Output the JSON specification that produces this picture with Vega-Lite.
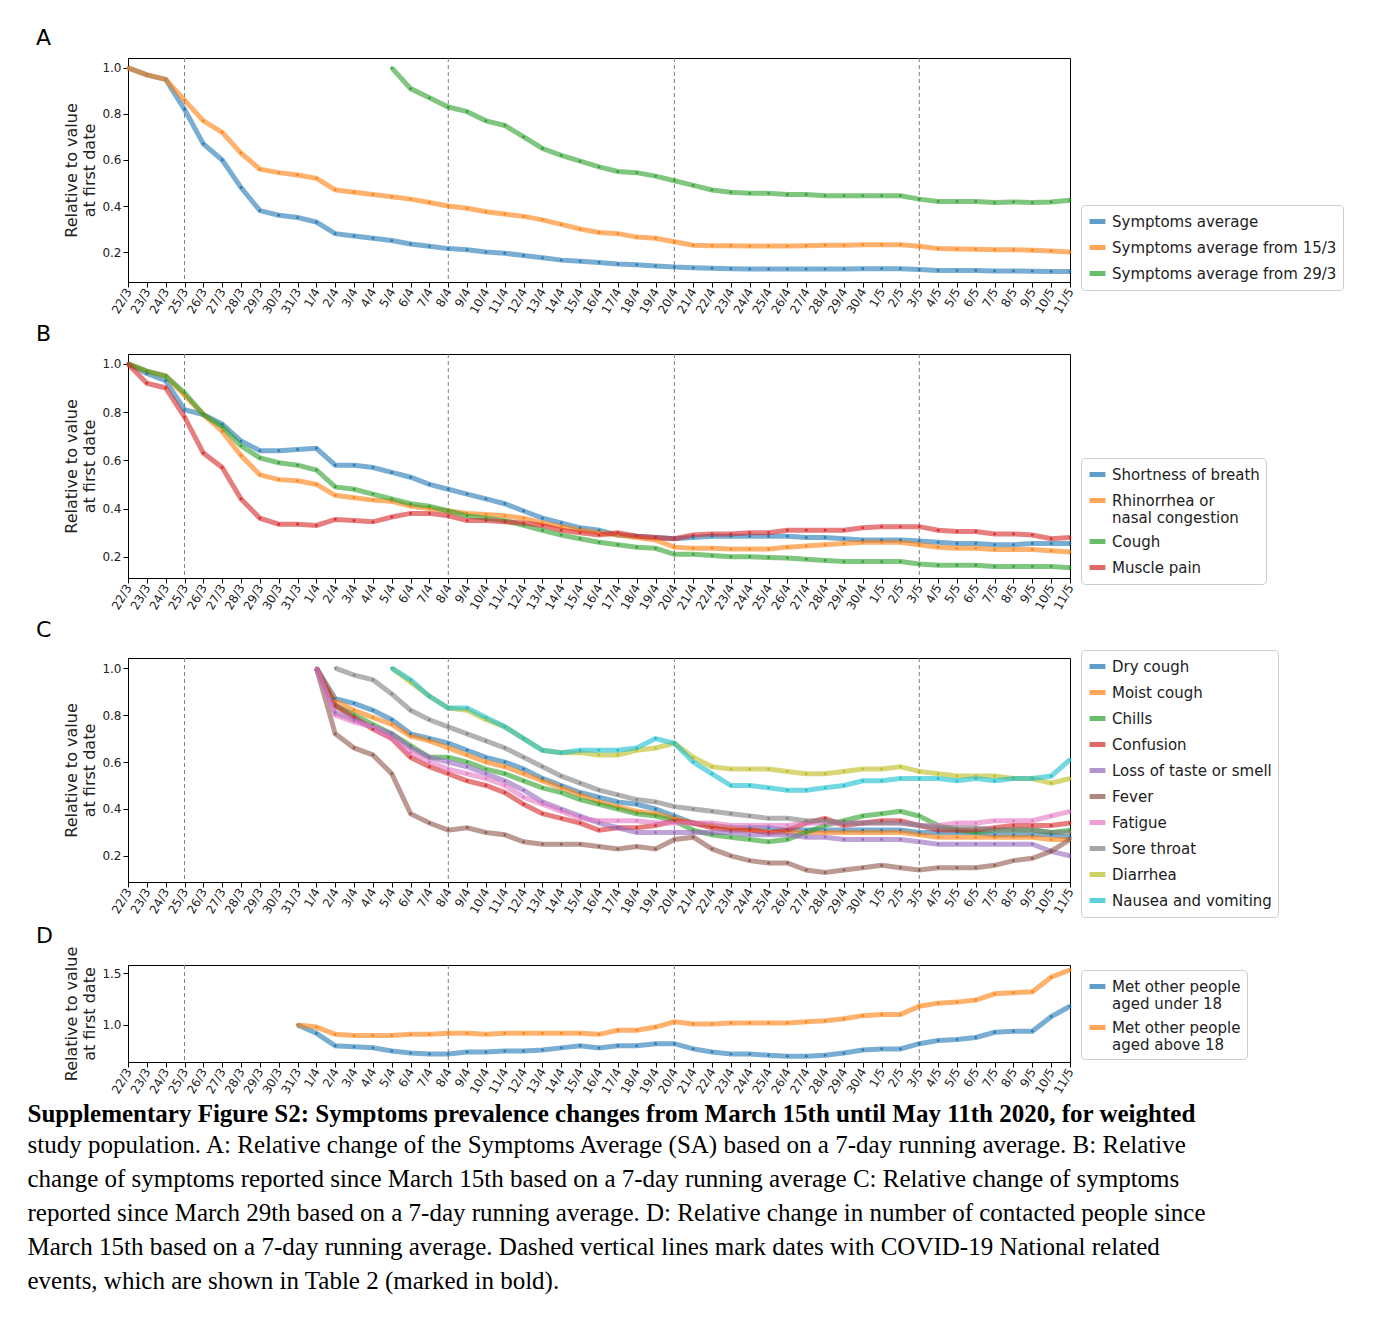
{
"$schema":"https://vega.github.io/schema/vega-lite/v6.json",
"padding":{"left":27,"top":26,"right":0,"bottom":2},
"spacing":6,
"data":{"values":[
{"d":"22/3","a1":1.0,"a2":1.0,"b1":1.0,"b2":1.0,"b3":1.0,"b4":1.0},
{"d":"23/3","a1":0.97,"a2":0.97,"b1":0.96,"b2":0.97,"b3":0.97,"b4":0.92},
{"d":"24/3","a1":0.95,"a2":0.95,"b1":0.93,"b2":0.95,"b3":0.95,"b4":0.90},
{"d":"25/3","a1":0.82,"a2":0.86,"b1":0.81,"b2":0.87,"b3":0.88,"b4":0.78},
{"d":"26/3","a1":0.67,"a2":0.77,"b1":0.79,"b2":0.79,"b3":0.79,"b4":0.63},
{"d":"27/3","a1":0.60,"a2":0.72,"b1":0.75,"b2":0.72,"b3":0.74,"b4":0.57},
{"d":"28/3","a1":0.48,"a2":0.63,"b1":0.68,"b2":0.62,"b3":0.66,"b4":0.44},
{"d":"29/3","a1":0.38,"a2":0.56,"b1":0.64,"b2":0.54,"b3":0.61,"b4":0.36},
{"d":"30/3","a1":0.36,"a2":0.545,"b1":0.64,"b2":0.52,"b3":0.59,"b4":0.335},
{"d":"31/3","a1":0.35,"a2":0.535,"b1":0.645,"b2":0.515,"b3":0.58,"b4":0.335,"e1":1.0,"e2":1.0},
{"d":"1/4","a1":0.33,"a2":0.52,"b1":0.65,"b2":0.50,"b3":0.56,"b4":0.33,"c1":1,"c2":1,"c3":1,"c4":1,"c5":1,"c6":1,"c7":1,"e1":0.92,"e2":0.98},
{"d":"2/4","a1":0.28,"a2":0.47,"b1":0.58,"b2":0.455,"b3":0.49,"b4":0.355,"c1":0.87,"c2":0.86,"c3":0.84,"c4":0.84,"c5":0.81,"c6":0.72,"c7":0.80,"c8":1.0,"e1":0.80,"e2":0.91},
{"d":"3/4","a1":0.27,"a2":0.46,"b1":0.58,"b2":0.445,"b3":0.48,"b4":0.35,"c1":0.85,"c2":0.82,"c3":0.80,"c4":0.79,"c5":0.78,"c6":0.66,"c7":0.77,"c8":0.97,"e1":0.79,"e2":0.90},
{"d":"4/4","a1":0.26,"a2":0.45,"b1":0.57,"b2":0.435,"b3":0.46,"b4":0.345,"c1":0.82,"c2":0.79,"c3":0.76,"c4":0.74,"c5":0.75,"c6":0.63,"c7":0.75,"c8":0.95,"e1":0.78,"e2":0.90},
{"d":"5/4","a1":0.25,"a2":0.44,"a3":1.0,"b1":0.55,"b2":0.43,"b3":0.44,"b4":0.365,"c1":0.78,"c2":0.76,"c3":0.72,"c4":0.70,"c5":0.72,"c6":0.55,"c7":0.70,"c8":0.89,"c9":1.0,"c10":1.0,"e1":0.75,"e2":0.90},
{"d":"6/4","a1":0.235,"a2":0.43,"a3":0.91,"b1":0.53,"b2":0.41,"b3":0.42,"b4":0.38,"c1":0.72,"c2":0.71,"c3":0.67,"c4":0.62,"c5":0.66,"c6":0.38,"c7":0.64,"c8":0.82,"c9":0.94,"c10":0.95,"e1":0.73,"e2":0.91},
{"d":"7/4","a1":0.225,"a2":0.415,"a3":0.87,"b1":0.50,"b2":0.40,"b3":0.41,"b4":0.38,"c1":0.70,"c2":0.69,"c3":0.62,"c4":0.58,"c5":0.62,"c6":0.34,"c7":0.60,"c8":0.78,"c9":0.88,"c10":0.88,"e1":0.72,"e2":0.91},
{"d":"8/4","a1":0.215,"a2":0.40,"a3":0.83,"b1":0.48,"b2":0.39,"b3":0.39,"b4":0.37,"c1":0.68,"c2":0.66,"c3":0.62,"c4":0.55,"c5":0.60,"c6":0.31,"c7":0.57,"c8":0.75,"c9":0.83,"c10":0.83,"e1":0.72,"e2":0.92},
{"d":"9/4","a1":0.21,"a2":0.39,"a3":0.81,"b1":0.46,"b2":0.38,"b3":0.37,"b4":0.35,"c1":0.65,"c2":0.63,"c3":0.60,"c4":0.52,"c5":0.58,"c6":0.32,"c7":0.55,"c8":0.72,"c9":0.82,"c10":0.83,"e1":0.74,"e2":0.92},
{"d":"10/4","a1":0.20,"a2":0.375,"a3":0.77,"b1":0.44,"b2":0.375,"b3":0.36,"b4":0.35,"c1":0.62,"c2":0.60,"c3":0.57,"c4":0.50,"c5":0.55,"c6":0.30,"c7":0.53,"c8":0.69,"c9":0.78,"c10":0.79,"e1":0.74,"e2":0.91},
{"d":"11/4","a1":0.195,"a2":0.365,"a3":0.75,"b1":0.42,"b2":0.37,"b3":0.35,"b4":0.345,"c1":0.60,"c2":0.58,"c3":0.55,"c4":0.47,"c5":0.52,"c6":0.29,"c7":0.50,"c8":0.66,"c9":0.75,"c10":0.75,"e1":0.75,"e2":0.92},
{"d":"12/4","a1":0.185,"a2":0.355,"a3":0.70,"b1":0.39,"b2":0.36,"b3":0.33,"b4":0.34,"c1":0.57,"c2":0.55,"c3":0.52,"c4":0.42,"c5":0.48,"c6":0.26,"c7":0.45,"c8":0.62,"c9":0.70,"c10":0.70,"e1":0.75,"e2":0.92},
{"d":"13/4","a1":0.175,"a2":0.34,"a3":0.65,"b1":0.36,"b2":0.34,"b3":0.31,"b4":0.33,"c1":0.53,"c2":0.52,"c3":0.49,"c4":0.38,"c5":0.43,"c6":0.25,"c7":0.42,"c8":0.58,"c9":0.65,"c10":0.65,"e1":0.76,"e2":0.92},
{"d":"14/4","a1":0.165,"a2":0.32,"a3":0.62,"b1":0.34,"b2":0.325,"b3":0.29,"b4":0.31,"c1":0.50,"c2":0.49,"c3":0.47,"c4":0.36,"c5":0.40,"c6":0.25,"c7":0.39,"c8":0.54,"c9":0.64,"c10":0.64,"e1":0.78,"e2":0.92},
{"d":"15/4","a1":0.16,"a2":0.30,"a3":0.595,"b1":0.32,"b2":0.31,"b3":0.275,"b4":0.30,"c1":0.47,"c2":0.46,"c3":0.44,"c4":0.34,"c5":0.37,"c6":0.25,"c7":0.36,"c8":0.51,"c9":0.64,"c10":0.65,"e1":0.80,"e2":0.92},
{"d":"16/4","a1":0.155,"a2":0.285,"a3":0.57,"b1":0.31,"b2":0.30,"b3":0.26,"b4":0.29,"c1":0.45,"c2":0.43,"c3":0.42,"c4":0.31,"c5":0.34,"c6":0.24,"c7":0.35,"c8":0.48,"c9":0.63,"c10":0.65,"e1":0.78,"e2":0.91},
{"d":"17/4","a1":0.148,"a2":0.28,"a3":0.55,"b1":0.29,"b2":0.29,"b3":0.25,"b4":0.30,"c1":0.43,"c2":0.41,"c3":0.40,"c4":0.32,"c5":0.32,"c6":0.23,"c7":0.35,"c8":0.46,"c9":0.63,"c10":0.65,"e1":0.80,"e2":0.95},
{"d":"18/4","a1":0.145,"a2":0.265,"a3":0.545,"b1":0.285,"b2":0.28,"b3":0.24,"b4":0.285,"c1":0.42,"c2":0.39,"c3":0.38,"c4":0.32,"c5":0.30,"c6":0.24,"c7":0.35,"c8":0.44,"c9":0.65,"c10":0.66,"e1":0.80,"e2":0.95},
{"d":"19/4","a1":0.14,"a2":0.26,"a3":0.53,"b1":0.28,"b2":0.27,"b3":0.235,"b4":0.28,"c1":0.40,"c2":0.38,"c3":0.37,"c4":0.33,"c5":0.30,"c6":0.23,"c7":0.34,"c8":0.43,"c9":0.66,"c10":0.70,"e1":0.82,"e2":0.98},
{"d":"20/4","a1":0.135,"a2":0.245,"a3":0.51,"b1":0.275,"b2":0.24,"b3":0.21,"b4":0.275,"c1":0.37,"c2":0.36,"c3":0.35,"c4":0.35,"c5":0.30,"c6":0.27,"c7":0.34,"c8":0.41,"c9":0.68,"c10":0.68,"e1":0.82,"e2":1.03},
{"d":"21/4","a1":0.132,"a2":0.23,"a3":0.49,"b1":0.28,"b2":0.235,"b3":0.21,"b4":0.29,"c1":0.34,"c2":0.34,"c3":0.31,"c4":0.34,"c5":0.30,"c6":0.28,"c7":0.34,"c8":0.40,"c9":0.62,"c10":0.60,"e1":0.77,"e2":1.01},
{"d":"22/4","a1":0.13,"a2":0.228,"a3":0.47,"b1":0.285,"b2":0.235,"b3":0.205,"b4":0.295,"c1":0.33,"c2":0.33,"c3":0.29,"c4":0.32,"c5":0.30,"c6":0.23,"c7":0.34,"c8":0.39,"c9":0.58,"c10":0.55,"e1":0.74,"e2":1.01},
{"d":"23/4","a1":0.128,"a2":0.228,"a3":0.46,"b1":0.285,"b2":0.232,"b3":0.20,"b4":0.295,"c1":0.32,"c2":0.32,"c3":0.28,"c4":0.31,"c5":0.30,"c6":0.20,"c7":0.33,"c8":0.38,"c9":0.57,"c10":0.50,"e1":0.72,"e2":1.02},
{"d":"24/4","a1":0.127,"a2":0.226,"a3":0.455,"b1":0.285,"b2":0.232,"b3":0.20,"b4":0.30,"c1":0.32,"c2":0.31,"c3":0.27,"c4":0.31,"c5":0.29,"c6":0.18,"c7":0.33,"c8":0.37,"c9":0.57,"c10":0.50,"e1":0.72,"e2":1.02},
{"d":"25/4","a1":0.126,"a2":0.226,"a3":0.455,"b1":0.285,"b2":0.232,"b3":0.197,"b4":0.30,"c1":0.32,"c2":0.30,"c3":0.26,"c4":0.30,"c5":0.29,"c6":0.17,"c7":0.33,"c8":0.36,"c9":0.57,"c10":0.49,"e1":0.71,"e2":1.02},
{"d":"26/4","a1":0.126,"a2":0.226,"a3":0.45,"b1":0.285,"b2":0.24,"b3":0.195,"b4":0.31,"c1":0.31,"c2":0.30,"c3":0.27,"c4":0.31,"c5":0.29,"c6":0.17,"c7":0.33,"c8":0.36,"c9":0.56,"c10":0.48,"e1":0.70,"e2":1.02},
{"d":"27/4","a1":0.126,"a2":0.228,"a3":0.45,"b1":0.28,"b2":0.245,"b3":0.19,"b4":0.31,"c1":0.31,"c2":0.30,"c3":0.30,"c4":0.34,"c5":0.28,"c6":0.14,"c7":0.34,"c8":0.35,"c9":0.55,"c10":0.48,"e1":0.70,"e2":1.03},
{"d":"28/4","a1":0.126,"a2":0.23,"a3":0.445,"b1":0.28,"b2":0.25,"b3":0.185,"b4":0.31,"c1":0.31,"c2":0.30,"c3":0.33,"c4":0.36,"c5":0.28,"c6":0.13,"c7":0.34,"c8":0.35,"c9":0.55,"c10":0.49,"e1":0.71,"e2":1.04},
{"d":"29/4","a1":0.127,"a2":0.23,"a3":0.445,"b1":0.275,"b2":0.255,"b3":0.18,"b4":0.31,"c1":0.31,"c2":0.30,"c3":0.35,"c4":0.33,"c5":0.27,"c6":0.14,"c7":0.34,"c8":0.34,"c9":0.56,"c10":0.50,"e1":0.73,"e2":1.06},
{"d":"30/4","a1":0.128,"a2":0.232,"a3":0.445,"b1":0.27,"b2":0.26,"b3":0.18,"b4":0.32,"c1":0.31,"c2":0.30,"c3":0.37,"c4":0.34,"c5":0.27,"c6":0.15,"c7":0.34,"c8":0.34,"c9":0.57,"c10":0.52,"e1":0.76,"e2":1.09},
{"d":"1/5","a1":0.128,"a2":0.232,"a3":0.445,"b1":0.27,"b2":0.26,"b3":0.18,"b4":0.325,"c1":0.31,"c2":0.30,"c3":0.38,"c4":0.35,"c5":0.27,"c6":0.16,"c7":0.34,"c8":0.34,"c9":0.57,"c10":0.52,"e1":0.77,"e2":1.10},
{"d":"2/5","a1":0.128,"a2":0.232,"a3":0.445,"b1":0.27,"b2":0.26,"b3":0.18,"b4":0.325,"c1":0.31,"c2":0.30,"c3":0.39,"c4":0.35,"c5":0.27,"c6":0.15,"c7":0.34,"c8":0.34,"c9":0.58,"c10":0.53,"e1":0.77,"e2":1.10},
{"d":"3/5","a1":0.124,"a2":0.225,"a3":0.43,"b1":0.265,"b2":0.25,"b3":0.17,"b4":0.325,"c1":0.30,"c2":0.29,"c3":0.37,"c4":0.33,"c5":0.26,"c6":0.14,"c7":0.33,"c8":0.33,"c9":0.56,"c10":0.53,"e1":0.82,"e2":1.18},
{"d":"4/5","a1":0.12,"a2":0.215,"a3":0.42,"b1":0.26,"b2":0.24,"b3":0.165,"b4":0.31,"c1":0.30,"c2":0.28,"c3":0.33,"c4":0.31,"c5":0.25,"c6":0.15,"c7":0.33,"c8":0.32,"c9":0.55,"c10":0.53,"e1":0.85,"e2":1.21},
{"d":"5/5","a1":0.12,"a2":0.213,"a3":0.42,"b1":0.255,"b2":0.235,"b3":0.165,"b4":0.305,"c1":0.30,"c2":0.28,"c3":0.31,"c4":0.31,"c5":0.25,"c6":0.15,"c7":0.34,"c8":0.32,"c9":0.54,"c10":0.52,"e1":0.86,"e2":1.22},
{"d":"6/5","a1":0.12,"a2":0.212,"a3":0.42,"b1":0.255,"b2":0.235,"b3":0.165,"b4":0.305,"c1":0.30,"c2":0.28,"c3":0.30,"c4":0.31,"c5":0.25,"c6":0.15,"c7":0.34,"c8":0.32,"c9":0.54,"c10":0.53,"e1":0.88,"e2":1.24},
{"d":"7/5","a1":0.118,"a2":0.21,"a3":0.415,"b1":0.25,"b2":0.23,"b3":0.16,"b4":0.295,"c1":0.29,"c2":0.28,"c3":0.31,"c4":0.32,"c5":0.25,"c6":0.16,"c7":0.35,"c8":0.31,"c9":0.54,"c10":0.52,"e1":0.93,"e2":1.30},
{"d":"8/5","a1":0.118,"a2":0.21,"a3":0.418,"b1":0.25,"b2":0.23,"b3":0.16,"b4":0.295,"c1":0.29,"c2":0.28,"c3":0.31,"c4":0.33,"c5":0.25,"c6":0.18,"c7":0.35,"c8":0.31,"c9":0.53,"c10":0.53,"e1":0.94,"e2":1.31},
{"d":"9/5","a1":0.117,"a2":0.208,"a3":0.415,"b1":0.255,"b2":0.23,"b3":0.16,"b4":0.29,"c1":0.29,"c2":0.28,"c3":0.31,"c4":0.33,"c5":0.25,"c6":0.19,"c7":0.35,"c8":0.31,"c9":0.53,"c10":0.53,"e1":0.94,"e2":1.32},
{"d":"10/5","a1":0.116,"a2":0.205,"a3":0.418,"b1":0.255,"b2":0.225,"b3":0.16,"b4":0.275,"c1":0.29,"c2":0.27,"c3":0.30,"c4":0.33,"c5":0.22,"c6":0.22,"c7":0.37,"c8":0.30,"c9":0.51,"c10":0.54,"e1":1.08,"e2":1.46},
{"d":"11/5","a1":0.116,"a2":0.20,"a3":0.425,"b1":0.255,"b2":0.22,"b3":0.155,"b4":0.28,"c1":0.28,"c2":0.27,"c3":0.31,"c4":0.34,"c5":0.20,"c6":0.27,"c7":0.39,"c8":0.30,"c9":0.53,"c10":0.61,"e1":1.18,"e2":1.53}
]},
"title":{
"text":"Supplementary Figure S2: Symptoms prevalence changes from March 15th until May 11th 2020, for weighted",
"subtitle":["study population. A: Relative change of the Symptoms Average (SA) based on a 7-day running average. B: Relative","change of symptoms reported since March 15th based on a 7-day running average C: Relative change of symptoms","reported since March 29th based on a 7-day running average. D: Relative change in number of contacted people since","March 15th based on a 7-day running average. Dashed vertical lines mark dates with COVID-19 National related","events, which are shown in Table 2 (marked in bold)."],
"orient":"bottom","anchor":"start","font":"Liberation Serif","fontSize":25,"fontWeight":"bold","color":"black",
"subtitleFont":"Liberation Serif","subtitleFontSize":25,"subtitleColor":"black","subtitleLineHeight":34,"subtitlePadding":6,"offset":6,"dx":-8
},
"vconcat":[
{
"width":942,"height":224,
"title":{"text":"A","anchor":"start","frame":"group","dx":-92,"offset":8,"fontSize":22,"fontWeight":"normal"},
"layer":[
{"data":{"values":[{"d":"25/3"},{"d":"8/4"},{"d":"20/4"},{"d":"3/5"}]},"mark":{"type":"rule","color":"gray","strokeDash":[4,3],"strokeWidth":1},
"encoding":{"x":{"field":"d","type":"ordinal","scale":{"domain":["22/3","23/3","24/3","25/3","26/3","27/3","28/3","29/3","30/3","31/3","1/4","2/4","3/4","4/4","5/4","6/4","7/4","8/4","9/4","10/4","11/4","12/4","13/4","14/4","15/4","16/4","17/4","18/4","19/4","20/4","21/4","22/4","23/4","24/4","25/4","26/4","27/4","28/4","29/4","30/4","1/5","2/5","3/5","4/5","5/5","6/5","7/5","8/5","9/5","10/5","11/5"],"type":"point","padding":0}}}},
{"transform":[{"fold":["a1","a2","a3"],"as":["s","v"]},{"filter":"isValid(datum.v)"}],
"encoding":{
"x":{"field":"d","type":"ordinal","title":null,"axis":{"labelAngle":-60}},
"y":{"field":"v","type":"quantitative","title":["Relative to value","at first date"],"scale":{"domain":[0.07,1.043],"nice":false,"zero":false},"axis":{"values":[0.2,0.4,0.6,0.8,1.0],"format":".1f"}},
"color":{"field":"s","type":"nominal","scale":{"domain":["a1","a2","a3"],"range":["#1f77b4","#ff7f0e","#2ca02c"]},
"legend":{"title":null,"orient":"none","legendX":953,"legendY":147,"labelExpr":"{'a1':'Symptoms average','a2':'Symptoms average from 15/3','a3':'Symptoms average from 29/3'}[datum.label]"}}},
"layer":[{"mark":{"type":"line","strokeWidth":5,"opacity":0.6}},{"mark":{"type":"point","filled":true,"size":8,"opacity":0.9}}]}
]},
{
"width":942,"height":224,
"title":{"text":"B","anchor":"start","frame":"group","dx":-92,"offset":8,"fontSize":22,"fontWeight":"normal"},
"layer":[
{"data":{"values":[{"d":"25/3"},{"d":"8/4"},{"d":"20/4"},{"d":"3/5"}]},"mark":{"type":"rule","color":"gray","strokeDash":[4,3],"strokeWidth":1},
"encoding":{"x":{"field":"d","type":"ordinal","scale":{"domain":["22/3","23/3","24/3","25/3","26/3","27/3","28/3","29/3","30/3","31/3","1/4","2/4","3/4","4/4","5/4","6/4","7/4","8/4","9/4","10/4","11/4","12/4","13/4","14/4","15/4","16/4","17/4","18/4","19/4","20/4","21/4","22/4","23/4","24/4","25/4","26/4","27/4","28/4","29/4","30/4","1/5","2/5","3/5","4/5","5/5","6/5","7/5","8/5","9/5","10/5","11/5"],"type":"point","padding":0}}}},
{"transform":[{"fold":["b1","b2","b3","b4"],"as":["s","v"]},{"filter":"isValid(datum.v)"}],
"encoding":{
"x":{"field":"d","type":"ordinal","title":null,"axis":{"labelAngle":-60}},
"y":{"field":"v","type":"quantitative","title":["Relative to value","at first date"],"scale":{"domain":[0.112,1.041],"nice":false,"zero":false},"axis":{"values":[0.2,0.4,0.6,0.8,1.0],"format":".1f"}},
"color":{"field":"s","type":"nominal","scale":{"domain":["b1","b2","b3","b4"],"range":["#1f77b4","#ff7f0e","#2ca02c","#d62728"]},
"legend":{"title":null,"orient":"none","legendX":953,"legendY":104,"labelExpr":"{'b1':'Shortness of breath','b2':['Rhinorrhea or',' nasal congestion'],'b3':'Cough','b4':'Muscle pain'}[datum.label]"}}},
"layer":[{"mark":{"type":"line","strokeWidth":5,"opacity":0.6}},{"mark":{"type":"point","filled":true,"size":8,"opacity":0.9}}]}
]},
{
"width":942,"height":224,
"title":{"text":"C","anchor":"start","frame":"group","dx":-92,"offset":8,"fontSize":22,"fontWeight":"normal"},
"layer":[
{"data":{"values":[{"d":"25/3"},{"d":"8/4"},{"d":"20/4"},{"d":"3/5"}]},"mark":{"type":"rule","color":"gray","strokeDash":[4,3],"strokeWidth":1},
"encoding":{"x":{"field":"d","type":"ordinal","scale":{"domain":["22/3","23/3","24/3","25/3","26/3","27/3","28/3","29/3","30/3","31/3","1/4","2/4","3/4","4/4","5/4","6/4","7/4","8/4","9/4","10/4","11/4","12/4","13/4","14/4","15/4","16/4","17/4","18/4","19/4","20/4","21/4","22/4","23/4","24/4","25/4","26/4","27/4","28/4","29/4","30/4","1/5","2/5","3/5","4/5","5/5","6/5","7/5","8/5","9/5","10/5","11/5"],"type":"point","padding":0}}}},
{"transform":[{"fold":["c1","c2","c3","c4","c5","c6","c7","c8","c9","c10"],"as":["s","v"]},{"filter":"isValid(datum.v)"}],
"encoding":{
"x":{"field":"d","type":"ordinal","title":null,"axis":{"labelAngle":-60}},
"y":{"field":"v","type":"quantitative","title":["Relative to value","at first date"],"scale":{"domain":[0.089,1.043],"nice":false,"zero":false},"axis":{"values":[0.2,0.4,0.6,0.8,1.0],"format":".1f"}},
"color":{"field":"s","type":"nominal","scale":{"domain":["c1","c2","c3","c4","c5","c6","c7","c8","c9","c10"],"range":["#1f77b4","#ff7f0e","#2ca02c","#d62728","#9467bd","#8c564b","#e377c2","#7f7f7f","#bcbd22","#17becf"]},
"legend":{"title":null,"orient":"none","legendX":953,"legendY":-8,"labelExpr":"{'c1':'Dry cough','c2':'Moist cough','c3':'Chills','c4':'Confusion','c5':'Loss of taste or smell','c6':'Fever','c7':'Fatigue','c8':'Sore throat','c9':'Diarrhea','c10':'Nausea and vomiting'}[datum.label]"}}},
"layer":[{"mark":{"type":"line","strokeWidth":5,"opacity":0.6}},{"mark":{"type":"point","filled":true,"size":8,"opacity":0.9}}]}
]},
{
"width":942,"height":97,
"title":{"text":"D","anchor":"start","frame":"group","dx":-92,"offset":-2,"fontSize":22,"fontWeight":"normal"},
"layer":[
{"data":{"values":[{"d":"25/3"},{"d":"8/4"},{"d":"20/4"},{"d":"3/5"}]},"mark":{"type":"rule","color":"gray","strokeDash":[4,3],"strokeWidth":1},
"encoding":{"x":{"field":"d","type":"ordinal","scale":{"domain":["22/3","23/3","24/3","25/3","26/3","27/3","28/3","29/3","30/3","31/3","1/4","2/4","3/4","4/4","5/4","6/4","7/4","8/4","9/4","10/4","11/4","12/4","13/4","14/4","15/4","16/4","17/4","18/4","19/4","20/4","21/4","22/4","23/4","24/4","25/4","26/4","27/4","28/4","29/4","30/4","1/5","2/5","3/5","4/5","5/5","6/5","7/5","8/5","9/5","10/5","11/5"],"type":"point","padding":0}}}},
{"transform":[{"fold":["e1","e2"],"as":["s","v"]},{"filter":"isValid(datum.v)"}],
"encoding":{
"x":{"field":"d","type":"ordinal","title":null,"axis":{"labelAngle":-60}},
"y":{"field":"v","type":"quantitative","title":["Relative to value","at first date"],"scale":{"domain":[0.644,1.577],"nice":false,"zero":false},"axis":{"values":[1.0,1.5],"format":".1f"}},
"color":{"field":"s","type":"nominal","scale":{"domain":["e1","e2"],"range":["#1f77b4","#ff7f0e"]},
"legend":{"title":null,"orient":"none","legendX":953,"legendY":5,"labelExpr":"{'e1':['Met other people',' aged under 18'],'e2':['Met other people',' aged above 18']}[datum.label]"}}},
"layer":[{"mark":{"type":"line","strokeWidth":5,"opacity":0.6}},{"mark":{"type":"point","filled":true,"size":8,"opacity":0.9}}]}
]}
],
"resolve":{"scale":{"color":"independent"}},
"config":{
"font":"DejaVu Sans",
"view":{"stroke":"black"},
"axis":{"grid":false,"domainColor":"black","tickColor":"black","labelColor":"#222","labelFontSize":12,"titleFontSize":16,"titleFontWeight":"normal","titleColor":"#222","labelFont":"DejaVu Sans","titleFont":"DejaVu Sans","titlePadding":4},
"legend":{"strokeColor":"#ccc","cornerRadius":4,"padding":6,"fillColor":"white","labelFontSize":15,"labelColor":"#222","labelLimit":300,"symbolType":"stroke","symbolStrokeWidth":5,"symbolSize":250,"symbolOpacity":0.7,"rowPadding":5}
}
}
